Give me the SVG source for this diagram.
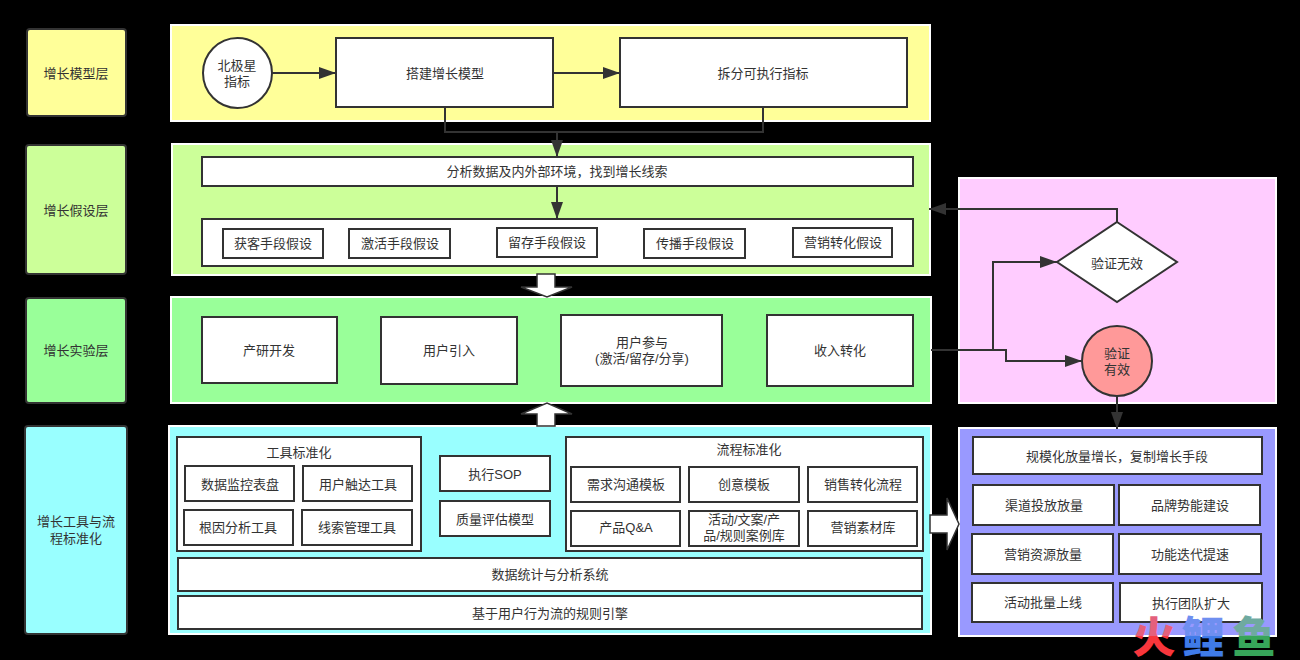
<svg xmlns="http://www.w3.org/2000/svg" width="1300" height="660" viewBox="0 0 1300 660">
<defs>
<style>
text{font-family:"Liberation Sans","Noto Sans CJK SC",sans-serif;font-size:13px;fill:#333;text-anchor:middle;dominant-baseline:central}
.n{fill:#fff;stroke:#333;stroke-width:2}
.p{stroke:#fff;stroke-width:2}
.l{stroke:#333;stroke-width:2;rx:3px}
.c{fill:none;stroke:#333;stroke-width:2}
.b{fill:#fff;stroke:#333;stroke-width:1.5}
.w{font-size:43px;font-weight:900}
</style>
<marker id="a" markerUnits="userSpaceOnUse" markerWidth="17" markerHeight="12" refX="17" refY="6" orient="auto"><path d="M0 0L17 6L0 12Z" fill="#333"/></marker>
<linearGradient id="wr" gradientUnits="userSpaceOnUse" x1="0" y1="616" x2="0" y2="660"><stop offset=".45" stop-color="#e4607c"/><stop offset=".46" stop-color="#f8363c"/></linearGradient>
<linearGradient id="wb" gradientUnits="userSpaceOnUse" x1="0" y1="616" x2="0" y2="660"><stop offset=".45" stop-color="#6f8ff0"/><stop offset=".46" stop-color="#3f7be8"/></linearGradient>
<linearGradient id="wg" gradientUnits="userSpaceOnUse" x1="0" y1="616" x2="0" y2="660"><stop offset=".45" stop-color="#6faaa0"/><stop offset=".46" stop-color="#37a65a"/></linearGradient>
</defs>
<rect width="1300" height="660" fill="#000"/>
<g id="panels">
<rect class="p" x="171" y="25" width="759" height="96" fill="#ffff99"/>
<rect class="p" x="172" y="144" width="758" height="131" fill="#ccff99"/>
<rect class="p" x="171" y="297" width="760" height="106" fill="#99ff99"/>
<rect class="p" x="169" y="426" width="762" height="208" fill="#99ffff"/>
<rect class="p" x="959" y="178" width="317" height="225" fill="#ffccff"/>
<rect class="p" x="959" y="428" width="317" height="208" fill="#9999ff"/>
</g>
<g id="layer-model"><rect class="l" x="27" y="29" width="99" height="87" fill="#ffff99"/><text x="76" y="73">增长模型层</text></g>
<g id="layer-hypothesis"><rect class="l" x="26" y="145" width="100" height="129" fill="#ccff99"/><text x="76" y="210">增长假设层</text></g>
<g id="layer-experiment"><rect class="l" x="26" y="298" width="100" height="105" fill="#99ff99"/><text x="76" y="350">增长实验层</text></g>
<g id="layer-tools"><rect class="l" x="25" y="426" width="102" height="208" fill="#99ffff"/><text x="76" y="521">增长工具与流</text><text x="76" y="538">程标准化</text></g>
<g id="north-star"><ellipse class="n" cx="237.500" cy="73" rx="34.500" ry="35"/><text x="237" y="65">北极星</text><text x="237" y="81">指标</text></g>
<g id="build-model"><rect class="n" x="336" y="38" width="217" height="69"/><text x="445" y="73">搭建增长模型</text></g>
<g id="split-metrics"><rect class="n" x="620" y="38" width="287" height="69"/><text x="763" y="73">拆分可执行指标</text></g>
<g id="analyze"><rect class="n" x="202" y="157" width="711" height="29"/><text x="557" y="171">分析数据及内外部环境，找到增长线索</text></g>
<g id="hypotheses"><rect class="n" x="202" y="219" width="711" height="47"/></g>
<g id="h1"><rect class="n" x="223" y="229" width="100" height="29"/><text x="273" y="243">获客手段假设</text></g>
<g id="h2"><rect class="n" x="349" y="229" width="101" height="29"/><text x="400" y="243">激活手段假设</text></g>
<g id="h3"><rect class="n" x="497" y="228" width="100" height="29"/><text x="547" y="242">留存手段假设</text></g>
<g id="h4"><rect class="n" x="644" y="229" width="101" height="29"/><text x="695" y="243">传播手段假设</text></g>
<g id="h5"><rect class="n" x="793" y="228" width="99" height="29"/><text x="843" y="242">营销转化假设</text></g>
<g id="e1"><rect class="n" x="202" y="317" width="135" height="66"/><text x="269" y="350">产研开发</text></g>
<g id="e2"><rect class="n" x="381" y="317" width="136" height="67"/><text x="449" y="350">用户引入</text></g>
<g id="e3"><rect class="n" x="561" y="315" width="161" height="71"/><text x="642" y="342">用户参与</text><text x="642" y="358">(激活/留存/分享)</text></g>
<g id="e4"><rect class="n" x="767" y="315" width="146" height="71"/><text x="840" y="350">收入转化</text></g>
<g id="tool-std"><rect class="n" x="177" y="437" width="244" height="114"/><text x="299" y="452">工具标准化</text></g>
<g id="t1"><rect class="n" x="185" y="466" width="109" height="35"/><text x="240" y="484">数据监控表盘</text></g>
<g id="t2"><rect class="n" x="303" y="466" width="109" height="35"/><text x="358" y="484">用户触达工具</text></g>
<g id="t3"><rect class="n" x="184" y="510" width="109" height="35"/><text x="238" y="527">根因分析工具</text></g>
<g id="t4"><rect class="n" x="302" y="510" width="110" height="35"/><text x="357" y="527">线索管理工具</text></g>
<g id="sop"><rect class="n" x="440" y="456" width="110" height="35"/><text x="495" y="474">执行SOP</text></g>
<g id="quality"><rect class="n" x="440" y="501" width="110" height="35"/><text x="495" y="519">质量评估模型</text></g>
<g id="process-std"><rect class="n" x="566" y="437" width="357" height="114"/><text x="749" y="449">流程标准化</text></g>
<g id="f1"><rect class="n" x="571" y="467" width="109" height="35"/><text x="626" y="484">需求沟通模板</text></g>
<g id="f2"><rect class="n" x="689" y="467" width="110" height="35"/><text x="744" y="484">创意模板</text></g>
<g id="f3"><rect class="n" x="808" y="467" width="109" height="35"/><text x="863" y="484">销售转化流程</text></g>
<g id="f4"><rect class="n" x="571" y="511" width="109" height="35"/><text x="626" y="527">产品Q&amp;A</text></g>
<g id="f5"><rect class="n" x="689" y="511" width="110" height="35"/><text x="744" y="519">活动/文案/产</text><text x="744" y="535">品/规则案例库</text></g>
<g id="f6"><rect class="n" x="808" y="511" width="109" height="35"/><text x="863" y="527">营销素材库</text></g>
<g id="data-system"><rect class="n" x="178" y="558" width="744" height="33"/><text x="550" y="574">数据统计与分析系统</text></g>
<g id="rule-engine"><rect class="n" x="178" y="596" width="744" height="33"/><text x="550" y="613">基于用户行为流的规则引擎</text></g>
<g id="invalid"><path class="n" d="M1117 222L1177 262L1117 302L1057 262Z"/><text x="1117" y="263">验证无效</text></g>
<g id="valid"><circle cx="1117" cy="361" r="35" fill="#ff9999" stroke="#333" stroke-width="2"/><text x="1117" y="353">验证</text><text x="1117" y="369">有效</text></g>
<g id="scale"><rect class="n" x="973" y="437" width="289" height="37"/><text x="1117" y="456">规模化放量增长，复制增长手段</text></g>
<g id="s1"><rect class="n" x="973" y="485" width="141" height="40"/><text x="1044" y="505">渠道投放放量</text></g>
<g id="s2"><rect class="n" x="1119" y="485" width="141" height="40"/><text x="1190" y="505">品牌势能建设</text></g>
<g id="s3"><rect class="n" x="972" y="534" width="141" height="40"/><text x="1043" y="554">营销资源放量</text></g>
<g id="s4"><rect class="n" x="1119" y="534" width="142" height="40"/><text x="1190" y="554">功能迭代提速</text></g>
<g id="s5"><rect class="n" x="972" y="583" width="141" height="39"/><text x="1043" y="602">活动批量上线</text></g>
<g id="s6"><rect class="n" x="1120" y="583" width="142" height="39"/><text x="1191" y="603">执行团队扩大</text></g>
<g id="connectors">
<path class="c" d="M272 73H336" marker-end="url(#a)"/>
<path class="c" d="M553 73H620" marker-end="url(#a)"/>
<path class="c" d="M445 107V132H763V107"/>
<path class="c" d="M557 132V157" marker-end="url(#a)"/>
<path class="c" d="M557 186V219" marker-end="url(#a)"/>
<path class="c" d="M1117 222V209H929" marker-end="url(#a)"/>
<path class="c" d="M931 350H993V262H1057" marker-end="url(#a)"/>
<path class="c" d="M993 350H1006V361H1082" marker-end="url(#a)"/>
<path class="c" d="M1117 396V429" marker-end="url(#a)"/>
<path class="b" d="M537 274H555V287H572L547 297L521 287H537Z"/>
<path class="b" d="M537 426H555V414H572L547 403L521 414H537Z"/>
<path class="b" d="M930 515H947V498L959 524L947 550V533H930Z"/>
</g>
<g id="watermark">
<text class="w" x="1154" y="638" style="fill:url(#wr)">火</text>
<text class="w" x="1203" y="638" style="fill:url(#wb)">鲤</text>
<text class="w" x="1254" y="638" style="fill:url(#wg)">鱼</text>
</g>
</svg>
